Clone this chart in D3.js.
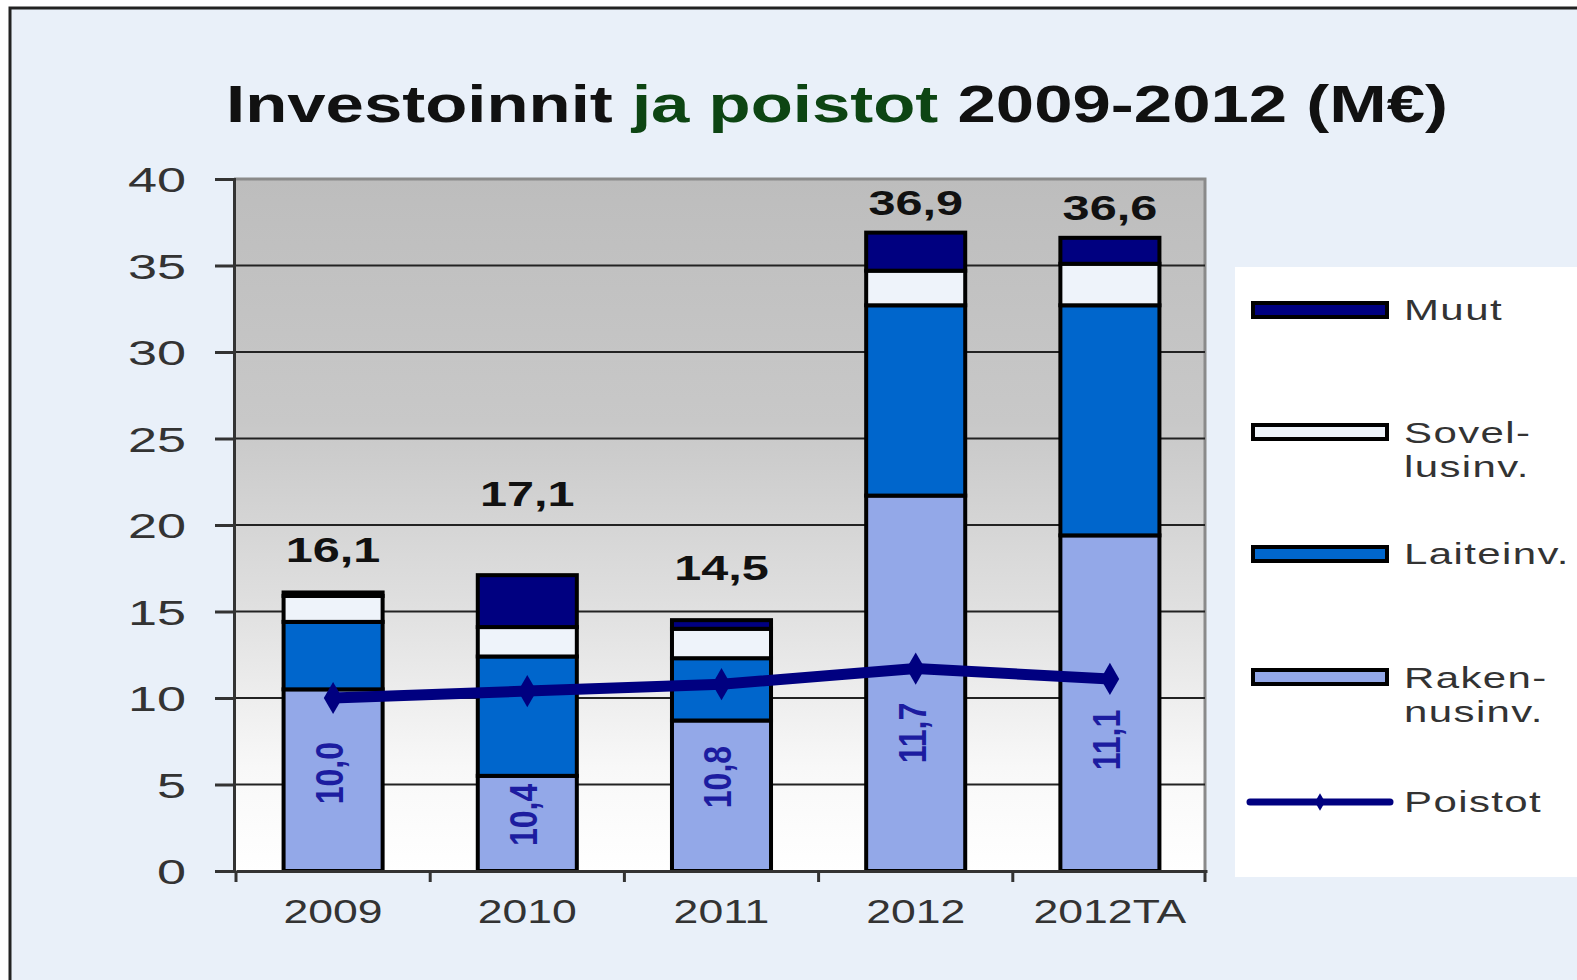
<!DOCTYPE html>
<html>
<head>
<meta charset="utf-8">
<script src="https://cdn.jsdelivr.net/npm/d3@7"></script>
<style>
  html, body { margin: 0; padding: 0; background: #ffffff; }
  svg { display: block; font-family: "Liberation Sans", Arial, sans-serif; }
</style>
</head>
<body>
<svg id="chart" width="1577" height="980"></svg>
<script>
// ---------- data ----------
const categories = ["2009", "2010", "2011", "2012", "2012TA"];
const rakennusinv = [10.5, 5.5, 8.7, 21.7, 19.4];
const laiteinv    = [3.9, 6.9, 3.6, 11.0, 13.3];
const sovellusinv = [1.5, 1.7, 1.7, 2.0, 2.4];
const muut        = [0.2, 3.0, 0.5, 2.2, 1.5];
const poistot     = [10.0, 10.4, 10.8, 11.7, 11.1];
const yTicks = [0, 5, 10, 15, 20, 25, 30, 35, 40];
const seriesKeys = ["rakennus", "laite", "sovellus", "muut"];
const legendLabels = [
  ["Muut"], ["Sovel-", "lusinv."], ["Laiteinv."], ["Raken-", "nusinv."], ["Poistot"]
];

// ---------- layout / style ----------
const colors = { rakennus: "#93a8e8", laite: "#0066cc", sovellus: "#eef3fa", muut: "#000080" };
const lineColor = "#000080";
const labelLift = [30, 69, 40, 18, 18];           // px above bar top for total labels
const poistoLabelAt = [5.66, 3.24, 5.43, 7.98, 7.57]; // value-axis anchor for rotated labels
const fmt = v => d3.format(".1f")(v).replace(".", ",");

const svg = d3.select("#chart");
const W = 1577, H = 980;
const plot = { left: 234, right: 1205, top: 179, bottom: 871 };

// page background + panel
svg.append("rect").attr("x", 0).attr("y", 0).attr("width", W).attr("height", H).attr("fill", "#ffffff");
svg.append("rect").attr("x", 10).attr("y", 8).attr("width", W + 20).attr("height", H + 20)
  .attr("fill", "#e9f0f9").attr("stroke", "#222").attr("stroke-width", 3);

const table = categories.map((c, i) => ({
  cat: c, rakennus: rakennusinv[i], laite: laiteinv[i], sovellus: sovellusinv[i], muut: muut[i],
  total: rakennusinv[i] + laiteinv[i] + sovellusinv[i] + muut[i], poistot: poistot[i]
}));

const x = d3.scaleBand().domain(categories).range([plot.left + 2, plot.right + 2])
  .paddingInner(0.49).paddingOuter(0.245);
const y = d3.scaleLinear().domain([0, 40]).range([plot.bottom, plot.top]);

// gradient plot background
const defs = svg.append("defs");
const grad = defs.append("linearGradient").attr("id", "bg").attr("x1", 0).attr("y1", 0).attr("x2", 0).attr("y2", 1);
[[0, "#bdbdbd"], [0.35, "#c8c8c8"], [0.6, "#dedede"], [0.85, "#f8f8f8"], [1, "#ffffff"]]
  .forEach(([o, c]) => grad.append("stop").attr("offset", o).attr("stop-color", c));

svg.append("rect").attr("x", plot.left).attr("y", plot.top)
  .attr("width", plot.right - plot.left).attr("height", plot.bottom - plot.top)
  .attr("fill", "url(#bg)");

// plot frame top/right
svg.append("path")
  .attr("d", `M${plot.left},${plot.top}H${plot.right}V${plot.bottom}`)
  .attr("fill", "none").attr("stroke", "#8a8a8a").attr("stroke-width", 3);

// gridlines
svg.append("g").selectAll("line").data(yTicks.filter(t => t > 0 && t < 40)).join("line")
  .attr("x1", plot.left).attr("x2", plot.right)
  .attr("y1", d => y(d)).attr("y2", d => y(d))
  .attr("stroke", "#222").attr("stroke-width", 2);

// title
const title = svg.append("text").attr("x", 226).attr("y", 122)
  .attr("font-size", 52).attr("font-weight", "bold")
  .attr("textLength", 1222).attr("lengthAdjust", "spacingAndGlyphs");
title.append("tspan").attr("fill", "#111").text("Investoinnit ");
title.append("tspan").attr("fill", "#0d4513").text("ja poistot ");
title.append("tspan").attr("fill", "#111").text("2009-2012 (M€)");

// stacked bars
const stack = d3.stack().keys(seriesKeys)(table);
const gBars = svg.append("g");
stack.forEach(layer => {
  gBars.append("g").selectAll("rect").data(layer).join("rect")
    .attr("x", d => x(d.data.cat))
    .attr("width", x.bandwidth())
    .attr("y", d => y(d[1]))
    .attr("height", d => y(d[0]) - y(d[1]))
    .attr("fill", colors[layer.key])
    .attr("stroke", "#000").attr("stroke-width", 4);
});

// Y axis
const yAxis = svg.append("g").attr("transform", `translate(${plot.left},0)`)
  .call(d3.axisLeft(y).tickValues(yTicks).tickSize(19).tickFormat(d3.format("d")));
yAxis.select(".domain").attr("stroke", "#333").attr("stroke-width", 3);
yAxis.selectAll(".tick line").attr("stroke", "#333").attr("stroke-width", 3);
yAxis.selectAll(".tick text")
  .attr("x", 0).attr("dy", "0.36em")
  .attr("transform", "translate(-48,0) scale(1.45,1)")
  .attr("font-size", 36).attr("fill", "#333").attr("font-family", "Liberation Sans, Arial, sans-serif");

// X axis
const xAxis = svg.append("g").attr("transform", `translate(0,${plot.bottom})`)
  .call(d3.axisBottom(x).tickSize(0).tickPadding(0));
xAxis.select(".domain").attr("stroke", "#333").attr("stroke-width", 3);
xAxis.selectAll(".tick text")
  .attr("y", 0).attr("dy", 0)
  .attr("transform", "translate(0,52) scale(1.35,1)")
  .attr("font-size", 33).attr("fill", "#333").attr("font-family", "Liberation Sans, Arial, sans-serif");
// boundary ticks (band edges)
const bounds = categories.map(c => x(c) - (x.step() - x.bandwidth()) / 2).concat([plot.right]);
svg.append("g").selectAll("line").data(bounds).join("line")
  .attr("x1", d => d).attr("x2", d => d)
  .attr("y1", plot.bottom).attr("y2", plot.bottom + 11)
  .attr("stroke", "#333").attr("stroke-width", 3);

// poistot line
const cx = c => x(c) + x.bandwidth() / 2;
svg.append("path").datum(table)
  .attr("d", d3.line().x(d => cx(d.cat)).y(d => y(d.poistot)))
  .attr("fill", "none").attr("stroke", lineColor).attr("stroke-width", 11).attr("stroke-linejoin", "round");
svg.append("g").selectAll("path").data(table).join("path")
  .attr("d", d3.symbol(d3.symbolDiamond, 300))
  .attr("transform", d => `translate(${cx(d.cat)},${y(d.poistot)})`)
  .attr("fill", lineColor);

// total labels
svg.append("g").selectAll("text").data(table).join("text")
  .attr("transform", (d, i) => `translate(${cx(d.cat)},${y(d.total) - labelLift[i]}) scale(1.35,1)`)
  .attr("text-anchor", "middle").attr("font-size", 36).attr("font-weight", "bold").attr("fill", "#111")
  .text(d => fmt(d.total));

// rotated poistot labels
svg.append("g").selectAll("text").data(table).join("text")
  .attr("transform", (d, i) => `translate(${cx(d.cat) - 4},${y(poistoLabelAt[i])}) scale(1.2,1) rotate(-90)`)
  .attr("text-anchor", "middle").attr("dy", "0.36em")
  .attr("font-size", 32).attr("font-weight", "bold").attr("fill", "#1c1ca0")
  .text(d => fmt(d.poistot));

// legend
svg.append("rect").attr("x", 1235).attr("y", 267).attr("width", 360).attr("height", 610).attr("fill", "#ffffff");
const legendKeys = ["muut", "sovellus", "laite", "rakennus"];
const legendY = [310, 432, 554, 677, 802];
const lg = svg.append("g");
legendKeys.forEach((k, i) => {
  lg.append("rect").attr("x", 1253).attr("y", legendY[i] - 7).attr("width", 134).attr("height", 14)
    .attr("fill", colors[k]).attr("stroke", "#000").attr("stroke-width", 4);
});
lg.append("line").attr("x1", 1250).attr("x2", 1390).attr("y1", legendY[4]).attr("y2", legendY[4])
  .attr("stroke", lineColor).attr("stroke-width", 7).attr("stroke-linecap", "round");
lg.append("path").attr("d", d3.symbol(d3.symbolDiamond, 90)).attr("transform", `translate(1320,${legendY[4]})`).attr("fill", lineColor);
legendLabels.forEach((lines, i) => {
  const y0 = lines.length === 1 ? legendY[i] + 10 : legendY[i] + 11;
  lines.forEach((t, j) => {
    lg.append("text")
      .attr("transform", `translate(1404,${y0 + j * 34}) scale(1.4,1)`)
      .attr("font-size", 30).attr("fill", "#333").attr("letter-spacing", 1)
      .text(t);
  });
});
</script>
</body>
</html>
